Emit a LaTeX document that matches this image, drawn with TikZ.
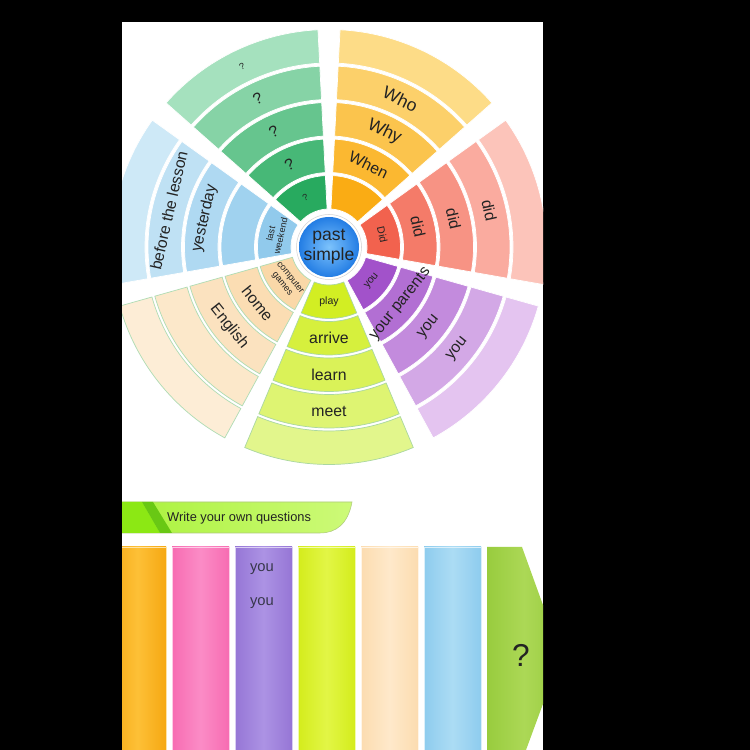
\documentclass[tikz,border=0pt]{standalone}
\usepackage{fontspec}
\setmainfont{Liberation Sans}
\definecolor{ink}{RGB}{35,35,35}
\definecolor{grnin}{RGB}{40,170,95}
\definecolor{grnout}{RGB}{165,225,190}
\definecolor{ylwin}{RGB}{250,172,20}
\definecolor{ylwout}{RGB}{253,220,135}
\definecolor{redin}{RGB}{242,98,78}
\definecolor{redout}{RGB}{252,196,186}
\definecolor{purin}{RGB}{162,82,202}
\definecolor{purout}{RGB}{228,196,240}
\definecolor{limin}{RGB}{210,238,35}
\definecolor{limout}{RGB}{226,246,140}
\definecolor{limbrd}{RGB}{170,215,160}
\definecolor{pchin}{RGB}{250,216,168}
\definecolor{pchout}{RGB}{253,237,214}
\definecolor{pchbrd}{RGB}{175,220,180}
\definecolor{bluin}{RGB}{145,202,236}
\definecolor{bluout}{RGB}{206,233,247}
\definecolor{ctrin}{RGB}{125,195,252}
\definecolor{ctrout}{RGB}{35,125,228}
\definecolor{banbright}{RGB}{140,232,20}
\definecolor{banstripe}{RGB}{105,200,20}
\definecolor{banmid}{RGB}{170,242,60}
\definecolor{banlite}{RGB}{205,250,120}
\definecolor{orgE}{RGB}{246,168,18}
\definecolor{orgM}{RGB}{253,192,55}
\definecolor{pnkE}{RGB}{247,108,178}
\definecolor{pnkM}{RGB}{251,140,198}
\definecolor{purE}{RGB}{150,118,214}
\definecolor{purM}{RGB}{172,146,228}
\definecolor{limE}{RGB}{212,236,28}
\definecolor{limM}{RGB}{226,246,70}
\definecolor{pchE}{RGB}{252,220,176}
\definecolor{pchM}{RGB}{254,233,202}
\definecolor{bluE}{RGB}{142,204,238}
\definecolor{bluM}{RGB}{172,220,244}
\definecolor{grnE}{RGB}{152,204,62}
\definecolor{grnM}{RGB}{172,216,86}
\definecolor{colink}{RGB}{55,55,75}

\begin{document}
\begin{tikzpicture}[x=0.02cm, y=0.02cm,
    wmain/.style={text=ink, font=\fontsize{9}{10}\selectfont, inner sep=0pt},
    wbig/.style={text=ink, font=\fontsize{10}{11}\selectfont, inner sep=0pt},
    wsmall/.style={text=ink, font=\fontsize{6}{7}\selectfont, inner sep=0pt},
    wtiny/.style={text=ink, font=\fontsize{5.2}{5.8}\selectfont, inner sep=0pt, align=center},
    coltext/.style={text=colink, font=\fontsize{8.4}{10}\selectfont}]
  \useasboundingbox (0,0) rectangle (750,750);
  \fill[black] (0,0) rectangle (750,750);
  \fill[white] (122,0) rectangle (543,728);
  \begin{scope}
    \clip (122,0) rectangle (543,728);
    \begin{scope}[shift={(329,503)}]
      \foreach \ang/\ci/\co/\cb in {115.71/grnin/grnout/white, 64.29/ylwin/ylwout/white,
          12.86/redin/redout/white, -38.57/purin/purout/white, -90/limin/limout/limbrd,
          -141.43/pchin/pchout/pchbrd, 167.14/bluin/bluout/white}
        \foreach \k in {1,...,5} {
          \pgfmathsetmacro\rin{38+36.5*(\k-1)}
          \pgfmathsetmacro\rout{\rin+33.5}
          \pgfmathtruncatemacro\mix{(\k-1)*25}
          \filldraw[fill=\co!\mix!\ci, draw=\cb, line width=0.4pt]
            (\ang-22.8:\rin) arc[start angle=\ang-22.8, end angle=\ang+22.8, radius=\rin]
            -- (\ang+22.8:\rout) arc[start angle=\ang+22.8, end angle=\ang-22.8, radius=\rout] -- cycle;
        }
      \filldraw[fill=white, draw=gray!35, line width=0.3pt] (0,0) circle[radius=32.5];
      \shade[inner color=ctrin, outer color=ctrout] (0,0) circle[radius=30];
      \node[align=center, text=ink, font=\fontsize{10}{11.3}\selectfont] (ctr) at (0,0) {past\\simple};
      \foreach \ang/\k/\lbl/\fnt [count=\n] in {
          115.71/1/?/wtiny, 115.71/2/?/wmain, 115.71/3/?/wmain, 115.71/4/?/wmain, 115.71/5/?/wtiny,
          64.29/2/When/wmain, 64.29/3/Why/wbig, 64.29/4/Who/wbig,
          12.86/1/Did/wsmall, 12.86/2/did/wmain, 12.86/3/did/wmain, 12.86/4/did/wmain,
          -38.57/1/you/wsmall, -38.57/2/your parents/wmain, -38.57/3/you/wmain, -38.57/4/you/wmain,
          -90/1/play/wsmall, -90/2/arrive/wmain, -90/3/learn/wmain, -90/4/meet/wmain,
          -141.43/1/{computer\\games}/wtiny, -141.43/2/home/wmain, -141.43/3/English/wmain,
          167.14/1/{last\\weekend}/wtiny, 167.14/3/yesterday/wmain, 167.14/4/before the lesson/wmain} {
        \pgfmathsetmacro\rot{\ang<0 ? \ang+90 : \ang-90}
        \pgfmathsetmacro\rmid{54.75+36.5*(\k-1)}
        \node[\fnt, rotate=\rot] (w\n) at (\ang:\rmid) {\lbl};
      }
    \end{scope}
    \shadedraw[left color=banmid, right color=banlite, draw=banlite!60!gray, line width=0.3pt]
      (122,248) -- (352,248) .. controls (348,226) and (336,217) .. (320,217) -- (122,217) -- cycle;
    \fill[banbright] (122,248) -- (142,248) -- (160,217) -- (122,217) -- cycle;
    \fill[banstripe] (142,248) -- (153,248) -- (172,217) -- (160,217) -- cycle;
    \node[anchor=west, text=ink, font=\fontsize{7.3}{9}\selectfont] (ban) at (161,232) {Write your own questions};
    \foreach \i/\ce/\cm in {0/orgE/orgM, 1/pnkE/pnkM, 2/purE/purM, 3/limE/limM, 4/pchE/pchM, 5/bluE/bluM}
      \shadedraw[left color=\ce, right color=\ce, middle color=\cm, draw=\cm!45!white, line width=0.4pt]
        (109+63*\i,0) rectangle (166+63*\i,203);
    \shade[left color=grnE, right color=grnE, middle color=grnM]
      (487,203) -- (522,203) -- (561,95) -- (526,0) -- (487,0) -- cycle;
    \node[coltext] (you1) at (262,181) {you};
    \node[coltext] (you2) at (262,147) {you};
    \node[text=ink, font=\fontsize{18}{20}\selectfont] (qm) at (521,95) {?};
  \end{scope}
\end{tikzpicture}
\end{document}
